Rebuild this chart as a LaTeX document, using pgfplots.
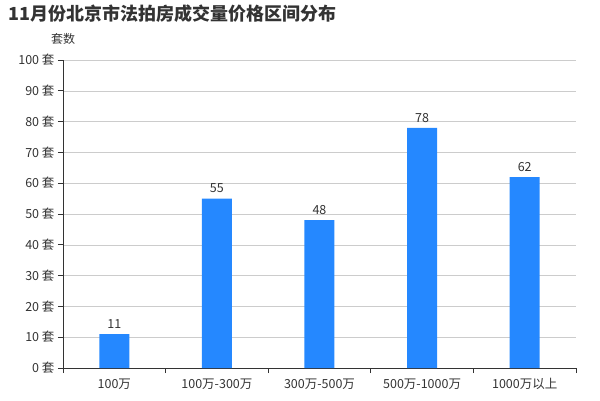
\documentclass[border=0pt]{standalone}
\usepackage{pgfplots}
\pgfplotsset{compat=1.18}
\usepackage{fontspec}
\setmainfont{Noto Sans CJK SC}
\definecolor{barblue}{HTML}{2588FF}
\definecolor{txt}{HTML}{333333}
\definecolor{gridc}{HTML}{CCCCCC}
\begin{document}
\begin{tikzpicture}[x=1pt,y=1pt]
\path[use as bounding box] (0,0) rectangle (600,400);
\node[anchor=base west,font=\fontsize{18}{20}\selectfont\bfseries,text=txt,inner sep=0] at (8,379) {11月份北京市法拍房成交量价格区间分布};
\begin{axis}[
  at={(63pt,32pt)}, anchor=south west,
  scale only axis, width=513pt, height=308pt,
  xmin=-0.5, xmax=4.5, ymin=0, ymax=100,
  axis x line*=bottom, axis y line*=left,
  axis line style={txt, line width=0.8pt},
  xtick={0,1,2,3,4},
  xticklabels={100万,100万-300万,300万-500万,500万-1000万,1000万以上},
  major x tick style={draw=none},
  minor xtick={-0.5,0.5,1.5,2.5,3.5,4.5},
  minor x tick style={txt, line width=0.8pt},
  minor tick length=5pt,
  ytick={0,10,...,100},
  yticklabel={\pgfmathprintnumber{\tick}\ 套},
  /pgf/number format/assume math mode=true,
  major tick length=5pt,
  tick align=outside,
  major y tick style={txt, line width=0.8pt},
  ymajorgrids, grid style={gridc, line width=0.6pt},
  ticklabel style={font=\fontsize{12.5}{14}\selectfont, text=txt},
  x tick label style={yshift=-2pt},
  ylabel={套数}, ylabel style={rotate=-90, font=\fontsize{12}{13}\selectfont, text=txt, at={(axis description cs:0,1)}, anchor=south, yshift=12pt, xshift=0pt},
  nodes near coords, every node near coord/.style={font=\fontsize{12.5}{14}\selectfont, text=txt, yshift=2pt},
  clip=false,
]
\addplot[ybar, bar width=30pt, fill=barblue, draw=none] coordinates {(0,11) (1,55) (2,48) (3,78) (4,62)};
\end{axis}
\end{tikzpicture}
\end{document}
